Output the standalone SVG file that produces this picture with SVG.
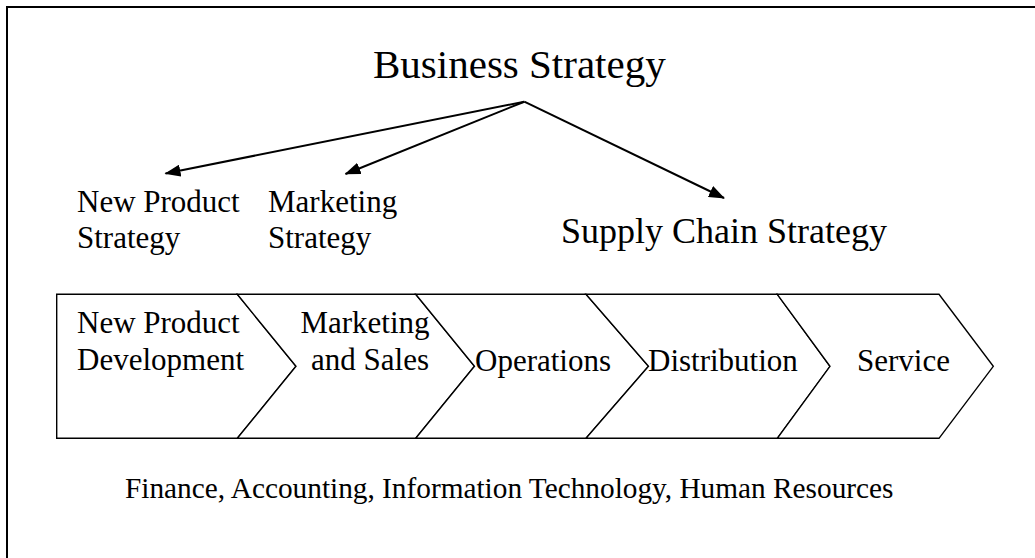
<svg xmlns="http://www.w3.org/2000/svg" width="1035" height="558" viewBox="0 0 1035 558">
  <style>
    text { font-family: "Liberation Serif", "Times New Roman", serif; fill: #000; }
    .lbl { font-size: 31px; }
    .stage { fill: #fff; stroke: #000; stroke-width: 1.4; stroke-linejoin: miter; }
    .edge { stroke: #000; stroke-width: 2; fill: none; }
  </style>
  <defs>
    <marker id="arrow" markerUnits="userSpaceOnUse" markerWidth="16" markerHeight="12" viewBox="0 0 16 12" refX="15" refY="6" orient="auto">
      <path d="M0,0 L16,6 L0,12 Z" fill="#000"/>
    </marker>
  </defs>

  <rect width="1035" height="558" fill="#fff"/>
  <!-- outer frame (continues past the right and bottom edges) -->
  <rect x="7" y="7" width="1200" height="700" fill="none" stroke="#000" stroke-width="2"/>

  <g id="business-strategy">
    <text x="373" y="78" style="font-size:41px">Business Strategy</text>
  </g>

  <g id="new-product-strategy">
    <text class="lbl" x="77" y="212">New Product</text>
    <text class="lbl" x="77" y="248">Strategy</text>
  </g>

  <g id="marketing-strategy">
    <text class="lbl" x="268" y="212">Marketing</text>
    <text class="lbl" x="268" y="248">Strategy</text>
  </g>

  <g id="supply-chain-strategy">
    <text x="561" y="243" style="font-size:36px">Supply Chain Strategy</text>
  </g>

  <g id="connectors">
    <line class="edge" x1="524.3" y1="101.7" x2="165.5" y2="173.5" marker-end="url(#arrow)"/>
    <line class="edge" x1="524.3" y1="101.7" x2="345.5" y2="174" marker-end="url(#arrow)"/>
    <line class="edge" x1="524.3" y1="101.7" x2="724" y2="198" marker-end="url(#arrow)"/>
  </g>

  <g id="stage-new-product-development">
    <path class="stage" d="M56.7,294.3 L237.3,294.3 L296,366.3 L237.3,438.3 L56.7,438.3 Z"/>
    <text class="lbl" x="77" y="333">New Product</text>
    <text class="lbl" x="77" y="370">Development</text>
  </g>

  <g id="stage-marketing-sales">
    <path class="stage" d="M237.3,294.3 L415.7,294.3 L474.5,366.3 L415.7,438.3 L237.3,438.3 L296,366.3 Z"/>
    <text class="lbl" x="365" y="333" text-anchor="middle">Marketing</text>
    <text class="lbl" x="370" y="370" text-anchor="middle">and Sales</text>
  </g>

  <g id="stage-operations">
    <path class="stage" d="M415.7,294.3 L586,294.3 L648.5,366.3 L586,438.3 L415.7,438.3 L474.5,366.3 Z"/>
    <text class="lbl" x="475" y="371">Operations</text>
  </g>

  <g id="stage-distribution">
    <path class="stage" d="M586,294.3 L777.3,294.3 L830,366.3 L777.3,438.3 L586,438.3 L648.5,366.3 Z"/>
    <text class="lbl" x="648" y="371">Distribution</text>
  </g>

  <g id="stage-service">
    <path class="stage" d="M777.3,294.3 L939,294.3 L993.3,366.3 L939,438.3 L777.3,438.3 L830,366.3 Z"/>
    <text class="lbl" x="857" y="371">Service</text>
  </g>

  <g id="support-functions">
    <text x="125" y="498" style="font-size:29.3px">Finance, Accounting, Information Technology, Human Resources</text>
  </g>
</svg>
